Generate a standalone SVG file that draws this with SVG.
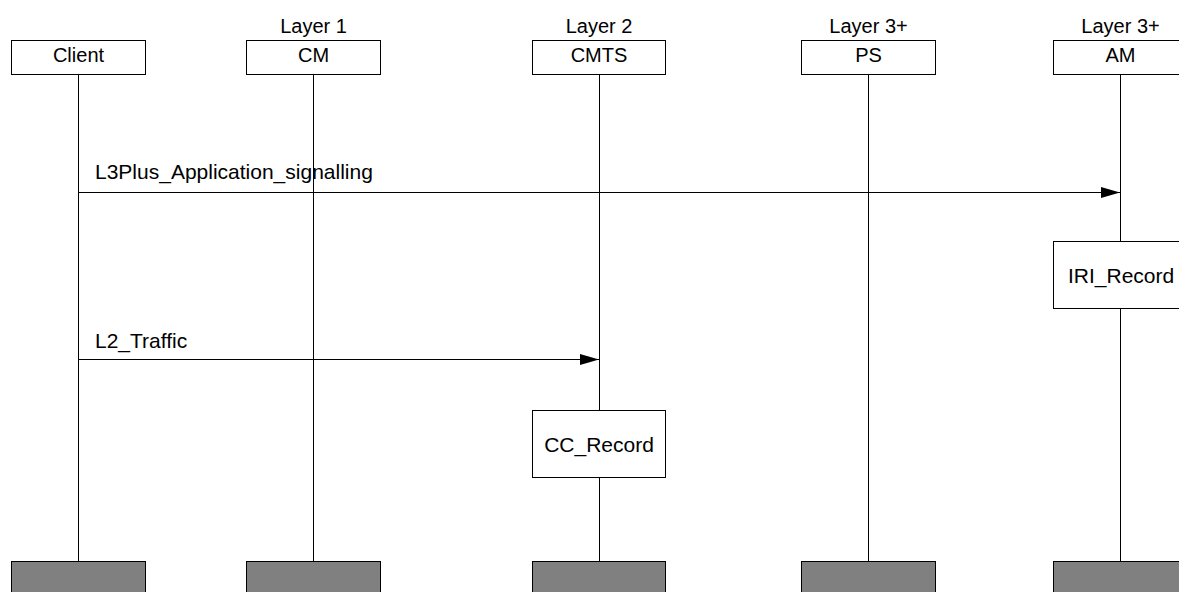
<svg xmlns="http://www.w3.org/2000/svg" width="1179" height="592" viewBox="0 0 1179 592">
<style>
text{font-family:"Liberation Sans",Arial,sans-serif;font-size:20px;fill:#000}
.c{text-anchor:middle}
.m{font-size:21px}
.box{fill:#fff;stroke:#000;stroke-width:1}
.end{fill:#808080;stroke:#000;stroke-width:1}
.life{stroke:#000;stroke-width:1}
.msg{stroke:#000;stroke-width:1;fill:none}
</style>
<defs>
<marker id="ah" markerWidth="19" markerHeight="12" refX="19" refY="6" orient="auto" markerUnits="userSpaceOnUse">
<path d="M0,0.5 L19,6 L0,11.5 Z" fill="#000"/>
</marker>
</defs>
<rect width="1179" height="592" fill="#fff"/>
<g id="lifelines">
<line class="life" x1="78.5" y1="74" x2="78.5" y2="561"/>
<line class="life" x1="313.5" y1="74" x2="313.5" y2="561"/>
<line class="life" x1="599.5" y1="74" x2="599.5" y2="561"/>
<line class="life" x1="868.5" y1="74" x2="868.5" y2="561"/>
<line class="life" x1="1120.5" y1="74" x2="1120.5" y2="561"/>
</g>
<g id="connectors">
<line class="msg" x1="78.5" y1="192.5" x2="1120" y2="192.5" marker-end="url(#ah)"/>
<text class="m" x="95" y="179">L3Plus_Application_signalling</text>
<line class="msg" x1="78.5" y1="359.5" x2="599" y2="359.5" marker-end="url(#ah)"/>
<text class="m" x="95" y="348">L2_Traffic</text>
</g>
<g id="client">
<rect class="box" x="11.5" y="40.5" width="134" height="34"/>
<text class="c" x="78.5" y="62">Client</text>
<rect class="end" x="11.5" y="561.5" width="134" height="40"/>
</g>
<g id="cm">
<text class="c" x="313.5" y="33">Layer 1</text>
<rect class="box" x="246.5" y="40.5" width="134" height="34"/>
<text class="c" x="313.5" y="62">CM</text>
<rect class="end" x="246.5" y="561.5" width="134" height="40"/>
</g>
<g id="cmts">
<text class="c" x="599" y="33">Layer 2</text>
<rect class="box" x="532.5" y="40.5" width="133" height="34"/>
<text class="c" x="599" y="62">CMTS</text>
<rect class="end" x="532.5" y="561.5" width="133" height="40"/>
</g>
<g id="ps">
<text class="c" x="868.5" y="33">Layer 3+</text>
<rect class="box" x="801.5" y="40.5" width="134" height="34"/>
<text class="c" x="868.5" y="62">PS</text>
<rect class="end" x="801.5" y="561.5" width="134" height="40"/>
</g>
<g id="am">
<text class="c" x="1120.5" y="33">Layer 3+</text>
<rect class="box" x="1053.5" y="40.5" width="134" height="34"/>
<text class="c" x="1120.5" y="62">AM</text>
<rect class="end" x="1053.5" y="561.5" width="134" height="40"/>
</g>
<g id="iri_record">
<rect class="box" x="1053.5" y="241.5" width="134" height="67"/>
<text class="m" x="1068" y="283">IRI_Record</text>
</g>
<g id="cc_record">
<rect class="box" x="532.5" y="410.5" width="133" height="67"/>
<text class="c m" x="599" y="452">CC_Record</text>
</g>
</svg>
